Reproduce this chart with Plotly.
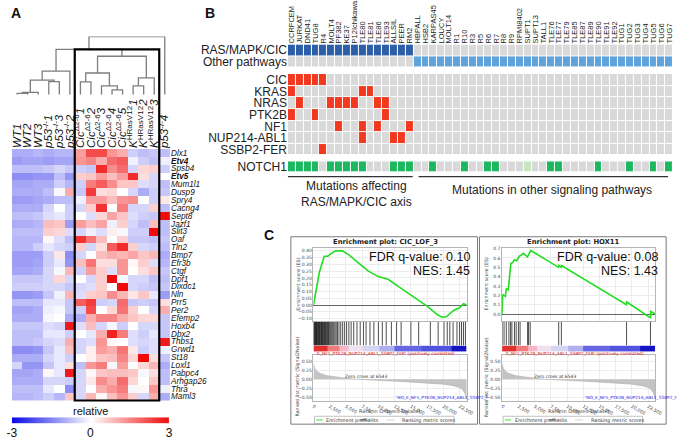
import plotly.graph_objects as go

W, H = 681, 440
FONT = "Liberation Sans, Arial, sans-serif"
GFONT = "DejaVu Sans, sans-serif"


def fx(x):
    return x / W


def fy(y):
    return 1 - y / H


# ---------------- panel A: expression heatmap ----------------
samples = ["<i>WT1</i>", "<i>WT2</i>", "<i>WT3</i>",
           "<i>p53</i><sup>-/-</sup><i>1</i>", "<i>p53</i><sup>-/-</sup><i>3</i>", "<i>p53</i><sup>-/-</sup><i>2</i>",
           "<i>Cic</i><sup>Δ2-6</sup><i>1</i>", "<i>Cic</i><sup>Δ2-6</sup><i>2</i>", "<i>Cic</i><sup>Δ2-6</sup><i>3</i>",
           "<i>Cic</i><sup>Δ2-6</sup><i>4</i>", "<i>Cic</i><sup>Δ2-6</sup><i>5</i>",
           "<i>K</i><sup>HRasV12</sup><i>1</i>", "<i>K</i><sup>HRasV12</sup><i>2</i>", "<i>K</i><sup>HRasV12</sup><i>3</i>",
           "<i>p53</i><sup>-/-</sup><i>4</i>"]
genes = ["Dlx1", "Etv4", "Spsb4", "Etv5", "Mum1l1", "Dusp9", "Spry4", "Cacng4", "Sept8", "Jazf1", "Slit3",
         "Oaf", "Tln2", "Bmp7", "Efr3b", "Ctgf", "Dpf1", "Dixdc1", "Nln", "Prr5", "Per2", "Efemp2", "Hoxb4",
         "Dbx2", "Thbs1", "Grwd1", "St18", "Loxl1", "Pabpc4", "Arhgap26", "Thra", "Maml3"]
bold_genes = ["Etv4", "Etv5"]
relative_expr = [
    [-1.0, -1.0, -0.9, -1.0, -0.9, -0.9, 1.2, 2.2, 2.2, 1.3, 1.0, -0.6, -0.8, -0.7, -0.8],
    [-1.2, -1.1, -1.1, -1.2, -1.1, -1.1, 1.3, 1.5, 1.0, 1.8, 2.0, -0.2, -0.6, -0.8, -0.2],
    [-0.8, -0.8, -0.8, -0.7, -0.5, -0.7, -0.6, -0.7, 2.6, 1.4, 1.8, -0.5, 0.5, 0.6, -0.6],
    [-1.4, -1.4, -1.3, -1.3, -0.8, -1.3, 0.6, 0.7, 1.2, 0.8, 1.2, 2.6, 0.4, -0.5, 0.0],
    [-1.1, -1.1, -1.0, -1.0, -0.6, -0.9, -0.6, 1.6, 2.0, 1.4, 0.7, 0.7, -0.4, -0.5, -0.8],
    [-1.0, -1.0, -1.0, -0.8, -0.1, 1.0, -0.7, 2.4, 0.4, 0.5, 0.0, -0.5, -1.0, -0.6, -0.7],
    [-1.2, -1.2, -1.1, -1.0, -0.8, -0.8, -0.2, 1.2, 1.2, 0.8, 1.3, 1.4, 0.0, -0.6, 0.3],
    [-1.0, -1.0, -1.0, -0.5, 0.0, -0.6, -0.5, 0.6, 2.5, 0.0, 1.6, -0.5, -0.5, 0.6, -0.8],
    [-0.8, -0.8, -0.7, -0.4, -0.3, -0.6, 0.0, -0.4, 0.5, 1.1, 0.7, -0.4, -0.6, -0.7, 3.0],
    [-1.0, -1.0, -0.9, 0.8, 0.7, -1.2, 1.2, 0.8, 1.1, -0.2, 0.6, -0.5, -0.8, 0.8, -0.8],
    [-0.8, -0.8, -0.8, 0.6, 0.5, -0.4, -0.5, -0.2, -0.4, 0.2, -0.1, -0.6, -0.6, 3.0, -0.8],
    [-0.9, -0.9, -0.9, 0.1, -0.4, -0.8, 2.5, 1.7, 0.8, 0.0, 0.6, -0.7, -0.7, -0.8, -0.7],
    [-0.9, -0.9, -0.6, -0.3, -0.5, -0.6, 0.6, -0.5, 0.4, 2.0, 2.6, 0.6, -0.5, -0.6, -0.8],
    [-1.2, -1.2, -1.2, -0.6, 0.3, -1.4, -0.5, 0.0, 0.8, 1.0, 0.9, 1.1, 0.7, 0.9, -1.0],
    [-1.2, -1.2, -1.1, -0.6, -0.3, -1.3, 0.8, 1.7, 0.4, 0.4, 1.3, 0.1, 0.6, -0.4, -0.9],
    [-1.1, -1.1, -1.0, -0.5, -0.1, 0.9, -0.6, 1.2, 0.6, -0.4, 1.3, 0.0, 0.4, 0.7, -0.7],
    [-0.7, -0.7, -0.7, -0.5, 0.5, -0.5, 0.0, -0.5, 0.6, 3.0, -0.1, -0.5, -0.5, -0.8, -0.8],
    [-0.6, -0.6, -0.6, -0.5, -0.5, -0.7, -0.5, -0.4, 0.6, 0.0, 3.0, -0.5, -0.6, -0.7, -0.7],
    [-1.3, -1.3, -1.2, -0.7, -0.2, 0.9, -0.4, 0.6, 0.7, 1.4, 0.9, 0.3, 0.7, -0.3, -1.2],
    [-0.8, -0.8, -0.8, -0.3, -0.3, -0.7, 2.0, 2.4, -0.6, -0.5, 1.8, -0.7, -0.6, -0.7, 0.4],
    [-1.1, -1.1, -1.0, -0.2, -0.1, -0.7, -0.6, 2.2, 0.0, 0.5, 1.7, 0.6, 0.0, -0.5, 1.0],
    [-1.0, -1.0, -1.0, -0.1, 0.0, -1.0, -1.0, 1.0, 1.5, 1.5, 1.0, 0.7, 0.5, 0.5, -0.7],
    [-0.7, -0.7, -0.7, -0.4, -0.5, 2.8, -0.4, 0.8, -0.5, -0.1, -0.6, 0.0, -0.5, -0.5, -0.7],
    [-0.8, -0.8, -0.8, -0.3, -0.3, -0.6, 0.0, -0.3, 1.0, 2.7, 1.6, -0.4, -0.6, -0.3, -0.7],
    [-0.8, -0.8, -0.7, -0.5, -0.4, 1.0, -0.5, -0.4, 1.3, 0.1, 0.0, -0.4, -0.5, -0.4, 2.8],
    [-1.4, -1.4, -1.3, -0.7, -0.3, 0.8, -0.5, 0.2, 1.2, 1.0, 1.7, 0.3, -0.6, -0.4, -0.2],
    [-1.0, -1.0, -1.0, -0.5, -0.3, -0.6, 0.0, 0.2, 0.7, 0.8, 1.5, 0.5, 3.0, 0.4, -0.7],
    [-0.5, -1.3, -1.3, -0.7, -0.3, 0.4, -0.8, 1.3, 1.6, -0.1, 1.2, 0.0, 0.5, 0.9, -1.0],
    [-1.1, -1.1, -1.0, 0.1, -0.3, 2.8, -0.5, 0.1, 0.7, 0.8, 0.8, 0.7, -0.1, 0.4, -0.8],
    [-1.0, -1.0, -1.0, -0.5, -0.5, -0.6, -0.5, 0.3, 1.4, 1.0, 1.8, 0.5, 0.0, 0.7, -0.8],
    [-0.8, -0.8, -0.8, -0.3, 0.0, -1.4, -0.5, 0.0, 1.0, 1.3, 1.6, -0.1, 0.1, 1.3, -0.2],
    [-0.9, -0.9, -0.8, -0.6, -0.9, 0.7, -0.5, 0.9, 0.1, 0.8, 1.3, 0.6, -0.5, 1.0, -1.0],
]
# dendrogram merges (left id, right id, height); ids >= 15 are earlier merges
merges = [(0, 1, 0.13), (15, 2, 0.23), (3, 4, 1.33), (16, 17, 1.47), (18, 5, 2.4),
          (9, 10, 0.5), (8, 20, 0.9), (6, 7, 1.3), (22, 21, 2.2), (11, 12, 0.9),
          (24, 13, 1.7), (23, 25, 3.9), (19, 26, 4.6), (27, 14, 5.9)]
colorbar_ticks = [-3, 0, 3]
colorbar_text = ["-3", "0", "3"]

# ---------------- panel B: mutation matrix ----------------
cell_lines = ["CCRFCEM", "JURKAT", "DND41", "TUG8", "R4", "MOLT4", "PF382", "KE37", "P12Ichikawa",
              "TLE80", "TLE81", "TLE86", "TLE93", "ALLSIL", "PEER", "RM2", "HBPALL", "HSB2", "KARPAS45",
              "LOUCY", "MOLT14", "R1", "R10", "R3", "R5", "R6", "R7", "R8", "R9", "RPMI8402", "SUPT1",
              "SUPT13", "TALL1", "TLE76", "TLE77", "TLE79", "TLE85", "TLE87", "TLE89", "TLE90", "TLE91",
              "TLE92", "TUG1", "TUG2", "TUG3", "TUG4", "TUG5", "TUG6", "TUG7"]
ras_pathway_lines = cell_lines[:16]
mutated_genes = ["CIC", "KRAS", "NRAS", "PTK2B", "NF1", "NUP214-ABL1", "SSBP2-FER"]
cic_mut = ["CCRFCEM", "JURKAT", "DND41", "TUG8", "R4"]
kras_mut = ["CCRFCEM", "TLE80", "TLE81"]
nras_mut = ["JURKAT", "MOLT4", "PF382", "KE37", "P12Ichikawa", "TLE86", "TLE93"]
ptk2b_mut = ["CCRFCEM", "TUG8", "TLE93"]
nf1_mut = ["PF382", "TLE80", "TLE86", "RM2"]
nup214_abl1_mut = ["TLE80", "ALLSIL", "PEER"]
ssbp2_fer_mut = ["R4"]
notch1_mut = ["CCRFCEM", "JURKAT", "DND41", "TUG8", "MOLT4", "PF382", "KE37", "P12Ichikawa", "TLE80",
              "ALLSIL", "PEER", "RM2", "KARPAS45", "R10", "R6", "R7", "TLE76", "TLE77", "TLE90",
              "TUG2", "TUG5", "TUG7"]
notch1_weak = ["SUPT1"]

# ---------------- panel C: GSEA ----------------
rank_x = [0, 200, 500, 1000, 2000, 3000, 4000, 5000, 6543, 8000, 10000, 12000, 14000, 16000, 18000,
          20000, 21500, 22500, 23000, 23300, 23500, 23600]
rank_metric = [0.42, 0.30, 0.22, 0.16, 0.10, 0.07, 0.05, 0.025, 0.0, -0.02, -0.04, -0.055, -0.07, -0.09,
               -0.11, -0.14, -0.18, -0.23, -0.30, -0.38, -0.50, -0.55]
bar_edges = [0, 2100, 4000, 5400, 7500, 10100, 12500, 16700, 21200, 23600]
bar_colors = ["#e2302c", "#ef7b7b", "#f6b6c6", "#efe1ef", "#d6d5f4", "#aeaef0", "#6666e4", "#5252e0", "#1414c4"]

cic_es_rank = [0, 300, 900, 1660, 2200, 2670, 3430, 4440, 5450, 6960, 8470, 9980, 11500, 13000, 14500,
               16000, 17550, 19060, 19800, 20500, 21580, 22500, 23100, 23600]
cic_es = [0.0, 0.08, 0.24, 0.36, 0.36, 0.38, 0.40, 0.40, 0.37, 0.31, 0.25, 0.21, 0.19, 0.14, 0.09,
          0.04, -0.01, -0.07, -0.09, -0.085, -0.04, -0.02, 0.01, 0.0]
cic_hits = [30, 120, 210, 300, 380, 470, 560, 650, 760, 850, 940, 1040, 1150, 1230, 1330, 1420, 1520,
            1640, 1730, 1850, 1960, 2080, 2190, 2300, 2420, 2560, 2700, 2850, 3000, 3150, 3320, 3500,
            3700, 3930, 4200, 4500, 4800, 5100, 5450, 5800, 6200, 6700, 7200, 7700, 8100, 8700, 9300,
            10000, 10600, 11200, 12000, 12800, 13500, 15000, 16200, 18000, 19200, 20100, 20600, 21000,
            21500, 22100, 22500, 22800, 23100, 23400]
hox_es_rank = [0, 100, 500, 650, 950, 1150, 1350, 1600, 1900, 2250, 2700, 3300, 3900, 4400, 8700, 8750,
               9100, 9150, 19150, 19200, 22850, 22900, 23600]
hox_es = [0.0, 0.21, 0.19, 0.27, 0.26, 0.45, 0.54, 0.55, 0.58, 0.57, 0.62, 0.65, 0.61, 0.68, 0.50, 0.52,
          0.50, 0.52, 0.10, 0.13, -0.04, 0.03, 0.0]
hox_hits = [5, 300, 650, 1050, 1310, 1510, 1910, 2170, 2520, 2770, 3930, 4080, 4330, 8720, 9130, 19170, 22850]
rank_ticks = [0, 2500, 5000, 7500, 10000, 12500, 15000, 17500, 20000, 22500]

fig = go.Figure()
axes = {}
shapes = []
annots = []
EXPR_SCALE = [[0, "#0a0ae6"], [0.5, "#ffffff"], [1, "#f00a0a"]]


def axis_pair(k, xdom, ydom, xrange, yrange, xextra=None, yextra=None):
    base = dict(showgrid=False, zeroline=False, showticklabels=False, ticks="", showline=False)
    xn = "xaxis" if k == 1 else f"xaxis{k}"
    yn = "yaxis" if k == 1 else f"yaxis{k}"
    xa = dict(base, domain=xdom, range=xrange, anchor="y" if k == 1 else f"y{k}")
    ya = dict(base, domain=ydom, range=yrange, anchor="x" if k == 1 else f"x{k}")
    xa.update(xextra or {})
    ya.update(yextra or {})
    axes[xn] = xa
    axes[yn] = ya


def note(text, x, y, size, xanchor="center", color="#111", family=FONT, angle=0, yanchor="middle"):
    annots.append(dict(text=text, x=fx(x), y=fy(y), xref="paper", yref="paper", showarrow=False,
                       xanchor=xanchor, yanchor=yanchor, textangle=angle,
                       font=dict(size=size, color=color, family=family)))


# ---- panel A ----
gene_text = [f"<b><i>{g}</i></b>" if g in bold_genes else f"<i>{g}</i>" for g in genes]
fig.add_trace(go.Heatmap(
    z=relative_expr, x=list(range(len(samples))), y=list(range(len(genes))),
    zmin=-3, zmax=3, colorscale=EXPR_SCALE, showscale=False,
    xaxis="x", yaxis="y", hoverinfo="skip"))
axis_pair(1, [fx(7), fx(168)], [fy(404), fy(149)], [-0.5, 14.5], [31.5, -0.5],
          dict(side="top", showticklabels=True, tickvals=list(range(len(samples))), ticktext=samples,
               tickangle=-90, tickfont=dict(size=11.5, color="#111", family=FONT)),
          dict(side="right", showticklabels=True, tickvals=list(range(len(genes))), ticktext=gene_text,
               tickfont=dict(size=8.2, color="#111", family=FONT)))

# colour key drawn as a smoothed strip between the tick values
fig.add_trace(go.Heatmap(z=[colorbar_ticks, colorbar_ticks], x=colorbar_ticks, y=[0, 1], zmin=-3, zmax=3,
                         colorscale=EXPR_SCALE, zsmooth="best", showscale=False,
                         xaxis="x14", yaxis="y14", hoverinfo="skip"))
axis_pair(14, [fx(7), fx(167)], [fy(427.5), fy(421)], [-3, 3], [0, 1],
          dict(showticklabels=True, tickvals=colorbar_ticks, ticktext=colorbar_text,
               tickfont=dict(size=12, color="#111", family=FONT)))

# dendrogram
pos = {i: (float(i), 0.0) for i in range(len(samples))}
dx, dy = [], []
for n, (a, b, h) in enumerate(merges):
    xa_, ha = pos[a]
    xb_, hb = pos[b]
    dx += [xa_, xa_, xb_, xb_, None]
    dy += [ha, h, h, hb, None]
    pos[len(samples) + n] = ((xa_ + xb_) / 2, h)
fig.add_trace(go.Scatter(x=dx, y=dy, mode="lines", line=dict(color="#7d7d7d", width=1.3),
                         xaxis="x2", yaxis="y2", hoverinfo="skip"))
axis_pair(2, [fx(7), fx(168)], [fy(94), fy(35)], [-0.5, 14.5], [0, 5.9])
shapes.append(dict(type="rect", xref="paper", yref="paper", x0=fx(71), x1=fx(157), y0=fy(404), y1=fy(48),
                   line=dict(color="#000", width=2.2)))
note("relative", 87.5, 415, 11)
note("<b>A</b>", 11, 11, 14)

# ---- panel B ----
pathway_z = [[1 if c in ras_pathway_lines else 0 for c in cell_lines],
             [0 if c in ras_pathway_lines else 2 for c in cell_lines]]
mut_lists = [cic_mut, kras_mut, nras_mut, ptk2b_mut, nf1_mut, nup214_abl1_mut, ssbp2_fer_mut]
mut_z = [[3 if c in lst else 0 for c in cell_lines] for lst in mut_lists]
notch_z = [[4 if c in notch1_mut else (5 if c in notch1_weak else 0) for c in cell_lines]]
cat_colors = ["#d9d9d9", "#2d5ea8", "#5ea3dc", "#f2381f", "#1db760", "#c7e6c1"]
cat_scale = []
for i, c in enumerate(cat_colors):
    cat_scale += [[i / len(cat_colors), c], [(i + 1) / len(cat_colors), c]]
xcols = list(range(len(cell_lines)))
for k, z, rows, ytop, ybot in [(3, pathway_z, ["RAS/MAPK/CIC", "Other pathways"], 43, 66.5),
                               (4, mut_z, mutated_genes, 73, 155.5),
                               (5, notch_z, ["NOTCH1"], 161.5, 173)]:
    fig.add_trace(go.Heatmap(z=z, x=xcols, y=list(range(len(rows))), zmin=-0.5, zmax=5.5,
                             colorscale=cat_scale, showscale=False, xgap=1, ygap=1,
                             xaxis=f"x{k}", yaxis=f"y{k}", hoverinfo="skip"))
    xextra = dict(side="top", showticklabels=True, tickvals=xcols, ticktext=cell_lines, tickangle=-90,
                  tickfont=dict(size=7.5, color="#222", family=FONT)) if k == 3 else None
    axis_pair(k, [fx(288), fx(680)], [fy(ybot), fy(ytop)], [-0.5, 48.5], [len(rows) - 0.5, -0.5],
              xextra,
              dict(showticklabels=True, tickvals=list(range(len(rows))), ticktext=rows,
                   tickfont=dict(size=12, color="#222", family=FONT)))
for x0, x1 in [(288, 415), (421, 675)]:
    shapes.append(dict(type="line", xref="paper", yref="paper", x0=fx(x0), x1=fx(x1), y0=fy(177), y1=fy(177),
                       line=dict(color="#333", width=1.2)))
note("Mutations affecting<br>RAS/MAPK/CIC axis", 358, 195, 12, color="#222")
note("Mutations in other signaling pathways", 557, 191, 12, color="#222")
note("<b>B</b>", 209, 11, 14)
note("<b>C</b>", 269, 236, 14)


# ---- panel C ----
def gsea(k0, bx, title, es_rank, es_vals, hits, es_range, es_ticks, es_fmt, fdr, nes):
    pl = bx + 23
    xd = [fx(pl), fx(pl + 156)]
    xr = [0, 23600]
    tickf = dict(size=4.5, color="#444", family=GFONT)
    grid = dict(showgrid=True, gridcolor="#ececec", gridwidth=0.5, showline=True, linecolor="#b5b5b5",
                linewidth=0.6, mirror=True)
    shapes.append(dict(type="rect", xref="paper", yref="paper", x0=fx(bx), x1=fx(bx + 190), y0=fy(428),
                       y1=fy(238), line=dict(color="#7a7a7a", width=1)))
    note(f"<b>{title}</b>", pl + 73, 243.5, 6.8, family=GFONT, color="#222")
    # enrichment score
    fig.add_trace(go.Scatter(x=es_rank, y=es_vals, mode="lines", line=dict(color="#22dd22", width=1.6),
                             xaxis=f"x{k0}", yaxis=f"y{k0}", hoverinfo="skip"))
    axis_pair(k0, xd, [fy(323), fy(249)], xr, es_range,
              dict(grid, tickvals=rank_ticks),
              dict(grid, showticklabels=True, tickvals=es_ticks, tickformat=es_fmt, tickfont=tickf,
                   zeroline=True, zerolinecolor="#666", zerolinewidth=0.8))
    # hits
    hx, hy = [], []
    for h in hits:
        hx += [h, h, None]
        hy += [0, 1, None]
    fig.add_trace(go.Scatter(x=hx, y=hy, mode="lines", line=dict(color="#000", width=0.7),
                             xaxis=f"x{k0 + 1}", yaxis=f"y{k0 + 1}", hoverinfo="skip"))
    axis_pair(k0 + 1, xd, [fy(348.3), fy(324.3)], xr, [0, 1])
    # colour bar of the ranked list
    bscale = []
    for i, c in enumerate(bar_colors):
        bscale += [[i / len(bar_colors), c], [(i + 1) / len(bar_colors), c]]
    fig.add_trace(go.Heatmap(z=[list(range(len(bar_colors)))], x=bar_edges, y=[0], zmin=-0.5,
                             zmax=len(bar_colors) - 0.5, colorscale=bscale, showscale=False,
                             xaxis=f"x{k0 + 2}", yaxis=f"y{k0 + 2}", hoverinfo="skip"))
    axis_pair(k0 + 2, xd, [fy(354.5), fy(348.3)], xr, [-0.5, 0.5])
    # ranked list metric
    fig.add_trace(go.Scatter(x=rank_x, y=rank_metric, mode="lines", fill="tozeroy", fillcolor="#c4c4c4",
                             line=dict(color="#a8a8a8", width=0.5),
                             xaxis=f"x{k0 + 3}", yaxis=f"y{k0 + 3}", hoverinfo="skip"))
    axis_pair(k0 + 3, xd, [fy(405), fy(358)], xr, [-0.617, 0.663],
              dict(grid, showticklabels=True, tickvals=rank_ticks, tickformat=",d", tickfont=tickf),
              dict(grid, showticklabels=True, tickvals=[-0.5, -0.25, 0, 0.25, 0.5], tickformat=".2f",
                   tickfont=tickf))
    note("'E_NF1_PTK2B_NUP214_ABL1_SSBP2_FER' (positively correlated)", pl + 0.5, 356.8, 4.3,
         xanchor="left", color="#e01010", family=GFONT)
    note("'NO_E_NF1_PTK2B_NUP214_ABL1_SSBP2_F", pl + 82, 401, 4.3, xanchor="left", color="#2a2aee",
         family=GFONT)
    note("Zero cross at 6543", pl + 30, 379.5, 4.5, xanchor="left", color="#333", family=GFONT)
    note("Rank in Ordered Dataset", pl + 78, 414.5, 5, color="#444", family=GFONT)
    note("Enrichment score (ES)", bx + 7, 286, 4.8, color="#444", family=GFONT, angle=-90)
    note("Ranked list metric (Signal2Noise)", bx + 7, 380, 4.8, color="#444", family=GFONT, angle=-90)
    note(f"FDR q-value: {fdr}", pl + 161, 259, 12.5, xanchor="right", color="#111")
    note(f"NES: {nes}", pl + 161, 272.5, 12.5, xanchor="right", color="#111")
    # legend
    shapes.append(dict(type="rect", xref="paper", yref="paper", x0=fx(pl + 1), x1=fx(pl + 143),
                       y0=fy(427.5), y1=fy(420), line=dict(color="#999", width=0.6)))
    for x0, x1, col in [(2.7, 9.3, "#22dd22"), (47.7, 54.3, "#333"), (74, 82.7, "#cfcfcf")]:
        shapes.append(dict(type="line", xref="paper", yref="paper", x0=fx(pl + x0), x1=fx(pl + x1),
                           y0=fy(423.7), y1=fy(423.7), line=dict(color=col, width=0.9)))
    note("Enrichment profile", pl + 11, 423.8, 4.8, xanchor="left", color="#333", family=GFONT)
    note("Hits", pl + 55, 423.8, 4.8, xanchor="left", color="#333", family=GFONT)
    note("Ranking metric scores", pl + 88, 423.8, 4.8, xanchor="left", color="#333", family=GFONT)


gsea(6, 291, "Enrichment plot: CIC_LOF_3", cic_es_rank, cic_es, cic_hits, [-0.115, 0.424],
     [-0.10, -0.05, 0, 0.05, 0.10, 0.15, 0.20, 0.25, 0.30, 0.35, 0.40], ".2f", "0.10", "1.45")
gsea(10, 483, "Enrichment plot: HOX11", hox_es_rank, hox_es, hox_hits, [-0.069, 0.7105],
     [0, 0.1, 0.2, 0.3, 0.4, 0.5, 0.6, 0.7], ".1f", "0.08", "1.43")

fig.update_layout(width=W, height=H, margin=dict(l=0, r=0, t=0, b=0), showlegend=False,
                  paper_bgcolor="white", plot_bgcolor="white", font=dict(family=FONT),
                  shapes=shapes, annotations=annots, **axes)
# drop the browser's default page margin so the figure sits at the window's corner
fig.write_html("out.html", config={"displayModeBar": False},
               post_script="document.body.style.margin = '0';")
